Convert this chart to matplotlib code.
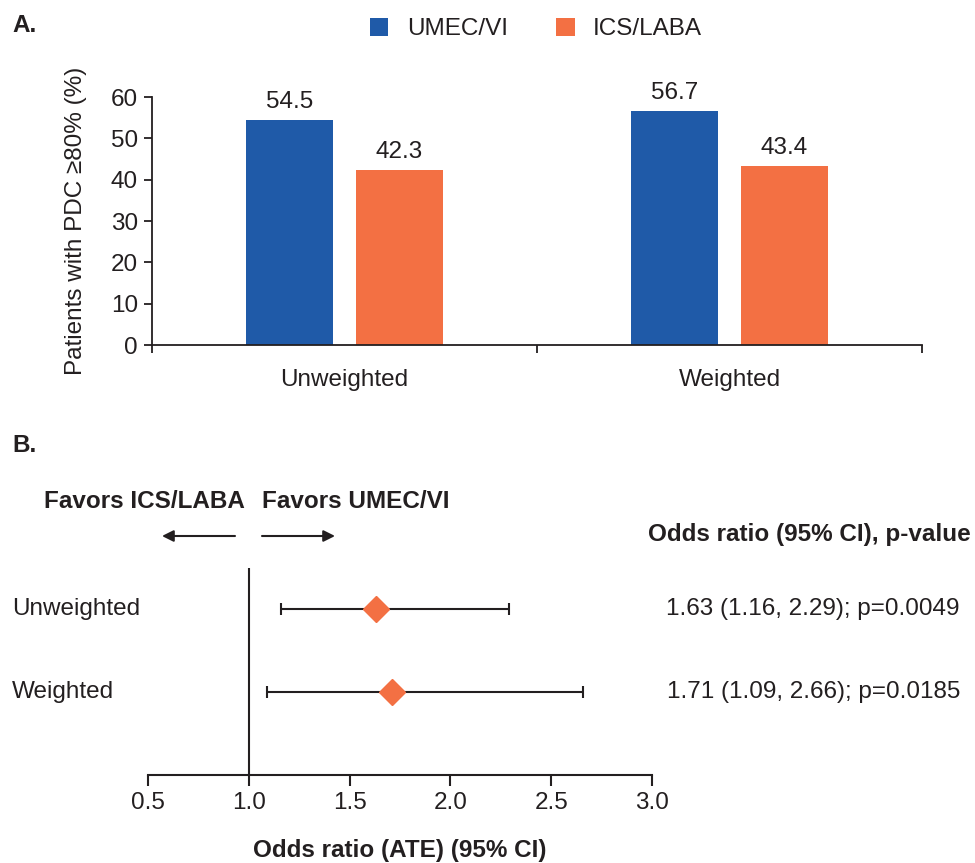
import matplotlib
matplotlib.use("Agg")
import matplotlib.pyplot as plt
from matplotlib.patches import Patch, FancyArrowPatch

plt.rcParams['font.family'] = ['Liberation Sans', 'DejaVu Sans']

# ---- data ----
categories = ["Unweighted", "Weighted"]
series_names = ["UMEC/VI", "ICS/LABA"]
umec_vi = [54.5, 56.7]
ics_laba = [42.3, 43.4]
yticks_a = [0, 10, 20, 30, 40, 50, 60]

forest_labels = ["Unweighted", "Weighted"]
or_est = [1.63, 1.71]
or_lo = [1.16, 1.09]
or_hi = [2.29, 2.66]
or_text = ["1.63 (1.16, 2.29); p=0.0049", "1.71 (1.09, 2.66); p=0.0185"]
xticks_b = [0.5, 1.0, 1.5, 2.0, 2.5, 3.0]

BLUE = "#1F5AA8"
ORANGE = "#F37043"
TXT = "#231F20"
FS = 17.5

W, H = 975, 863
fig = plt.figure(figsize=(W / 100, H / 100), dpi=100)

def fx(px):
    return px / W

def fy(py):
    return 1 - py / H

# ---- panel A ----
axA = fig.add_axes([fx(152), fy(345), fx(922) - fx(152), fy(97) - fy(345)])
x = range(len(categories))
bw = 0.226
off = 0.142
b1 = axA.bar([i - off for i in x], umec_vi, width=bw, color=BLUE)
b2 = axA.bar([i + off for i in x], ics_laba, width=bw, color=ORANGE)
for bars, vals in ((b1, umec_vi), (b2, ics_laba)):
    for r, v in zip(bars, vals):
        axA.annotate(f"{v:.1f}", (r.get_x() + r.get_width() / 2, v),
                     xytext=(0, 5), textcoords="offset points",
                     ha="center", va="bottom", fontsize=FS, color=TXT)
axA.set_xlim(-0.5, len(categories) - 0.5)
axA.set_ylim(0, 60)
axA.set_yticks(yticks_a)
axA.set_xticks([i - 0.5 for i in range(len(categories) + 1)])
axA.set_xticklabels([])
axA.set_xticks(list(x), minor=True)
axA.set_xticklabels(categories, minor=True, fontsize=FS, color=TXT)
axA.tick_params(axis="x", which="minor", length=0, pad=17)
axA.tick_params(axis="x", which="major", length=6, width=1.3, direction="out", color=TXT)
axA.tick_params(axis="y", length=6, width=1.3, direction="out", labelsize=FS,
                labelcolor=TXT, color=TXT, pad=4)
for s in ("top", "right"):
    axA.spines[s].set_visible(False)
for s in ("left", "bottom"):
    axA.spines[s].set_linewidth(1.3)
    axA.spines[s].set_color(TXT)
axA.set_ylabel("Patients with PDC \u226580% (%)", fontsize=FS, color=TXT, labelpad=17)

handles = [Patch(facecolor=BLUE), Patch(facecolor=ORANGE)]
fig.legend(handles, series_names, loc="center", bbox_to_anchor=(fx(536), fy(29)),
           ncol=2, frameon=False, fontsize=FS, handlelength=0.75, handleheight=0.75,
           handletextpad=0.75, columnspacing=2.0, labelcolor=TXT)

fig.text(fx(12), fy(25), "A.", fontsize=FS, fontweight="bold", color=TXT, va="center")
fig.text(fx(12), fy(445), "B.", fontsize=FS, fontweight="bold", color=TXT, va="center")

# ---- panel B ----
axB = fig.add_axes([fx(148), fy(775), fx(652) - fx(148), fy(568) - fy(775)])
n = len(forest_labels)
ypos = [n - i for i in range(n)]
axB.set_xlim(0.5, 3.0)
axB.set_ylim(0, 2.49)
axB.errorbar(or_est, ypos,
             xerr=[[e - l for e, l in zip(or_est, or_lo)], [h - e for e, h in zip(or_est, or_hi)]],
             fmt="none", ecolor=TXT, elinewidth=1.5, capsize=4, capthick=1.5)
axB.plot(or_est, ypos, "D", color=ORANGE, markersize=13, zorder=3)
axB.axvline(1.0, color=TXT, lw=1.5)
axB.set_xticks(xticks_b)
axB.set_xticklabels([f"{t:.1f}" for t in xticks_b])
axB.set_yticks([])
for s in ("top", "right", "left"):
    axB.spines[s].set_visible(False)
axB.spines["bottom"].set_linewidth(1.5)
axB.spines["bottom"].set_color(TXT)
axB.tick_params(axis="x", length=8, width=1.5, direction="out", labelsize=FS,
                labelcolor=TXT, color=TXT, pad=4)
axB.set_xlabel("Odds ratio (ATE) (95% CI)", fontsize=FS, fontweight="bold", color=TXT,
               labelpad=18)

for lab, yv, t in zip(forest_labels, ypos, or_text):
    yfig = fig.transFigure.inverted().transform(axB.transData.transform((1, yv)))[1]
    fig.text(fx(12), yfig, lab, fontsize=FS, color=TXT, va="center", ha="left")
    fig.text(fx(960), yfig, t, fontsize=FS, color=TXT, va="center", ha="right")

fig.text(fx(971), fy(535), "Odds ratio (95% CI), p-value", fontsize=FS, fontweight="bold",
         color=TXT, va="center", ha="right")
fig.text(fx(245), fy(502), "Favors ICS/LABA", fontsize=FS, fontweight="bold",
         color=TXT, va="center", ha="right")
fig.text(fx(262), fy(502), "Favors UMEC/VI", fontsize=FS, fontweight="bold",
         color=TXT, va="center", ha="left")
arrow = dict(arrowstyle="-|>", lw=1.5, color=TXT, mutation_scale=17, shrinkA=0, shrinkB=0)
fig.add_artist(FancyArrowPatch((fx(235), fy(536)), (fx(162), fy(536)),
                               transform=fig.transFigure, **arrow))
fig.add_artist(FancyArrowPatch((fx(262), fy(536)), (fx(335), fy(536)),
                               transform=fig.transFigure, **arrow))

fig.savefig("out.png", dpi=100)
